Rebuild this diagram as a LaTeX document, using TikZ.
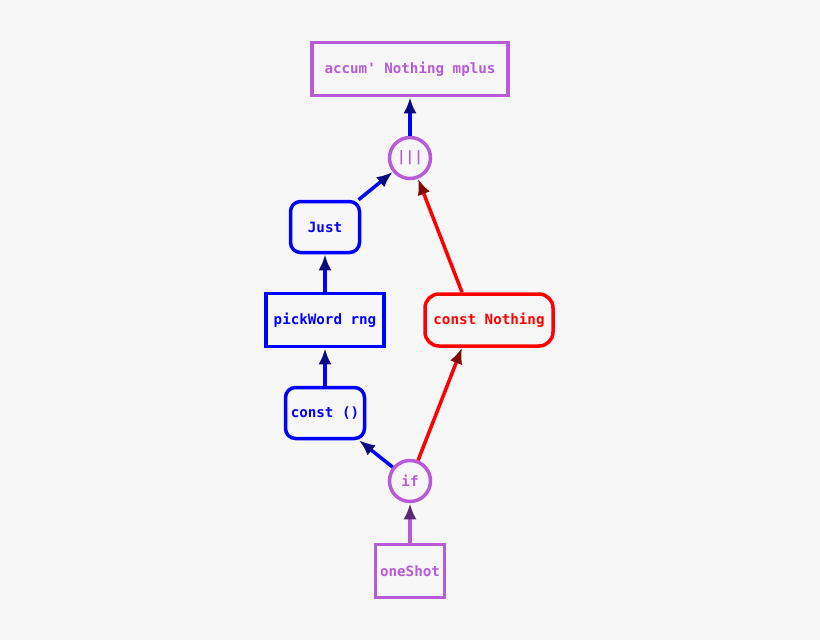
\documentclass[tikz,border=0pt]{standalone}
\usepackage{fontspec}
\setmonofont{DejaVu Sans Mono}
\usetikzlibrary{arrows.meta}
\definecolor{bgray}{HTML}{F7F7F7}
\definecolor{lilac}{HTML}{B95AD8}
\definecolor{tipblue}{HTML}{0A0A80}
\definecolor{tipred}{HTML}{800A0A}
\definecolor{tippurple}{HTML}{5A2A70}
\tikzset{%
	every node/.style={font=\ttfamily\bfseries\fontsize{14.2}{16}\selectfont, line width=3.5pt, inner sep=0pt},
	opbox/.style={draw=lilac, text=lilac, rectangle},
	opcirc/.style={draw=lilac, text=lilac, circle, minimum size=41pt},
	bluebox/.style={draw=blue, text=blue, rectangle},
	blueround/.style={draw=blue, text=blue, rounded corners=10pt},
	redround/.style={draw=red, text=red, rounded corners=14pt},
	bluearr/.style={draw=blue, line width=3.5pt, -{Latex[length=16pt,width=13pt,color=tipblue]}},
	redarr/.style={draw=red, line width=3.5pt, -{Latex[length=16pt,width=13pt,color=tipred]}},
	purparr/.style={draw=lilac, line width=3.5pt, -{Latex[length=16pt,width=13pt,color=tippurple]}}
}
\begin{document}
\begin{tikzpicture}[x=1pt, y=-1pt]
	\fill[bgray] (0,0) rectangle (820,640);
	\useasboundingbox (0,0) rectangle (820,640);

	\node[opbox, minimum width=196pt, minimum height=53pt] (accum) at (410,69) {accum' Nothing mplus};
	\node[opcirc] (alt) at (410,158) {|||};
	\node[blueround, minimum width=69pt, minimum height=51pt] (just) at (325,227) {Just};
	\node[bluebox, minimum width=118pt, minimum height=53pt] (pick) at (325,320) {pickWord rng};
	\node[redround, minimum width=128pt, minimum height=52pt] (constn) at (489,320) {const Nothing};
	\node[blueround, minimum width=79pt, minimum height=51pt] (constu) at (325,413) {const ()};
	\node[opcirc] (if) at (410,481) {if};
	\node[opbox, minimum width=69pt, minimum height=53pt] (shot) at (410,571) {oneShot};
	\coordinate (cntop) at ([xshift=-27pt]constn.north);
	\coordinate (cnbot) at ([xshift=-27pt]constn.south);

	\draw[purparr] (shot) -- (if);
	\draw[bluearr] (if) -- (constu);
	\draw[redarr] (if) -- (cnbot);
	\draw[bluearr] (constu) -- (pick);
	\draw[bluearr] (pick) -- (just);
	\draw[bluearr] (just) -- (alt);
	\draw[redarr] (cntop) -- (alt);
	\draw[bluearr] (alt) -- (accum);
\end{tikzpicture}
\end{document}
